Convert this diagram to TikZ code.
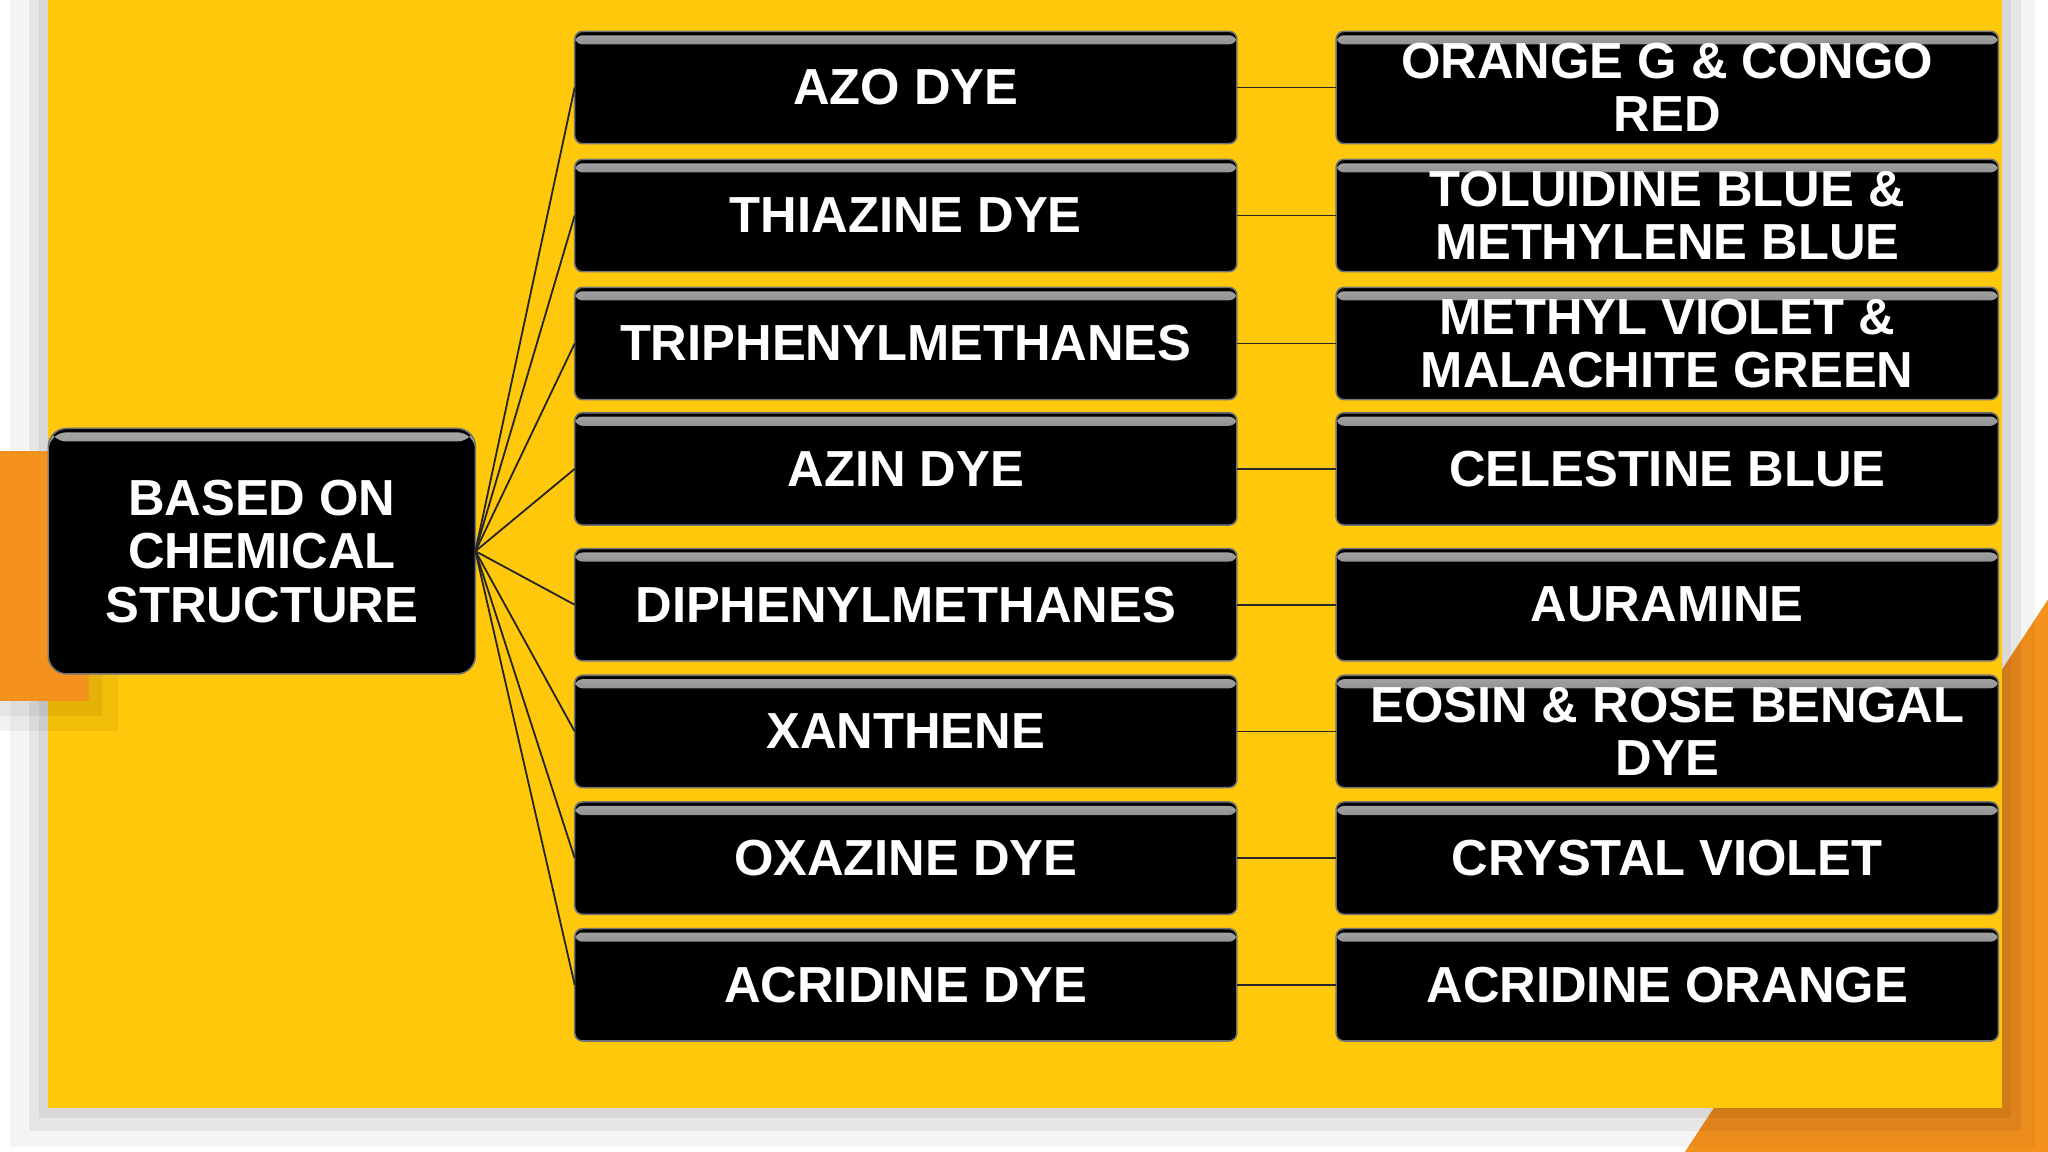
\documentclass[tikz,border=0pt]{standalone}
\usepackage{fontspec}
\setmainfont{Liberation Sans}
\usetikzlibrary{shapes,positioning}
\definecolor{panelyellow}{RGB}{255,200,10}
\definecolor{accentorange}{RGB}{245,146,30}
\tikzset{
        dyebox/.style = {draw=black!55, line width=0.6pt, fill=black, rectangle, rounded corners=3pt,
                minimum height=43pt, minimum width=253.5pt, inner sep=0pt, outer sep=0pt, text=white,
                font=\bfseries\fontsize{19.4}{20.5}\selectfont, align=center,
                path picture={\shade[top color=black!35, bottom color=black]
                        ([yshift=-1.5pt]path picture bounding box.north west) rectangle
                        ([yshift=-5pt]path picture bounding box.north east);}},
        rootbox/.style = {dyebox, rounded corners=7pt, minimum height=94pt, minimum width=163.5pt},
        link/.style = {draw=black!85, line width=0.7pt},
    }

\begin{document}
\begin{tikzpicture}[x=0.5pt, y=-0.5pt, node distance=6pt]
    \useasboundingbox (0,0) rectangle (1568,882);
    % slide background
    \fill[white] (0,0) rectangle (1568,882);
    \fill[accentorange] (1568,459) -- (1568,882) -- (1290,882) -- cycle;
    \fill[black, opacity=0.04] (8,0) rectangle (1558,878);
    \fill[black, opacity=0.06] (22,0) rectangle (1547,866);
    \fill[black, opacity=0.06] (30,0) rectangle (1540,856);
    \fill[panelyellow] (37,0) rectangle (1533,848);
    \fill[black, opacity=0.05] (0,352) rectangle (90,560);
    \fill[black, opacity=0.05] (0,352) rectangle (78,548);
    \fill[accentorange] (0,345) rectangle (68,537);

    \node [rootbox] (root) at (200.5,422) {BASED ON\\CHEMICAL\\STRUCTURE};

    \node [dyebox] (azo) at (693.5,67) {AZO DYE};
    \node [dyebox, below=6pt of azo] (thiazine) {THIAZINE DYE};
    \node [dyebox, below=6pt of thiazine] (triphenyl) {TRIPHENYLMETHANES};
    \node [dyebox, below=5pt of triphenyl] (azin) {AZIN DYE};
    \node [dyebox, below=9pt of azin] (diphenyl) {DIPHENYLMETHANES};
    \node [dyebox, below=5.5pt of diphenyl] (xanthene) {XANTHENE};
    \node [dyebox, below=5.5pt of xanthene] (oxazine) {OXAZINE DYE};
    \node [dyebox, below=5.5pt of oxazine] (acridine) {ACRIDINE DYE};

    \node [dyebox, right=38pt of azo] (congo) {ORANGE G \& CONGO\\RED};
    \node [dyebox, right=38pt of thiazine] (toluidine) {TOLUIDINE BLUE \&\\METHYLENE BLUE};
    \node [dyebox, right=38pt of triphenyl] (malachite) {METHYL VIOLET \&\\MALACHITE GREEN};
    \node [dyebox, right=38pt of azin] (celestine) {CELESTINE BLUE};
    \node [dyebox, right=38pt of diphenyl] (auramine) {AURAMINE};
    \node [dyebox, right=38pt of xanthene] (eosin) {EOSIN \& ROSE BENGAL\\DYE};
    \node [dyebox, right=38pt of oxazine] (crystal) {CRYSTAL VIOLET};
    \node [dyebox, right=38pt of acridine] (orange) {ACRIDINE ORANGE};

    \foreach \dye/\example in {azo/congo, thiazine/toluidine, triphenyl/malachite, azin/celestine,
            diphenyl/auramine, xanthene/eosin, oxazine/crystal, acridine/orange} {
        \draw [link] (root.east) -- (\dye.west);
        \draw [link] (\dye.east) -- (\example.west);
    }

\end{tikzpicture}
\end{document}
